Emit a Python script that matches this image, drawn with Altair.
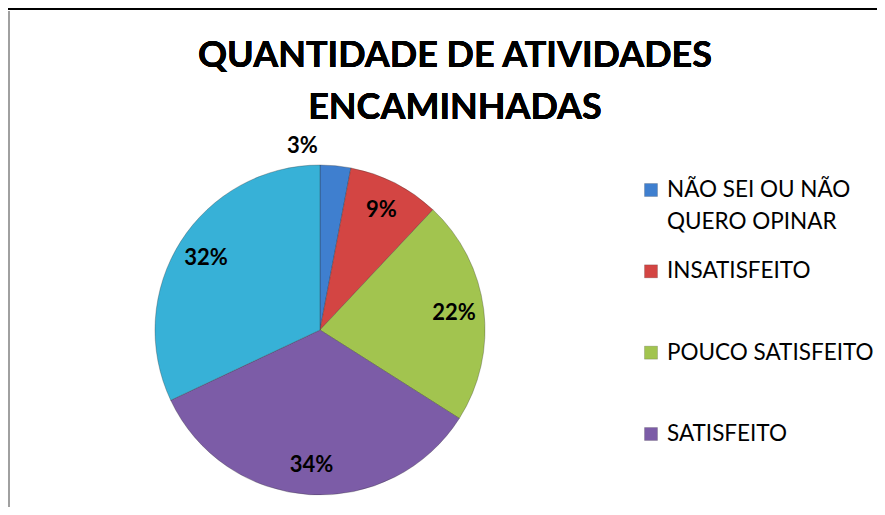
import altair as alt
import pandas as pd

categorias = [
    "NÃO SEI OU NÃO QUERO OPINAR",
    "INSATISFEITO",
    "POUCO SATISFEITO",
    "SATISFEITO",
    "MUITO SATISFEITO",
]
percentuais = [3, 9, 22, 34, 32]
cores = ["#3F7FCF", "#D34543", "#A2C44F", "#7C5CA7", "#37B1D7"]
titulo = ["QUANTIDADE DE ATIVIDADES", "ENCAMINHADAS"]
# legend entries visible in the reference (the fifth one is cut off there)
legenda_rotulos = ["NÃO SEI OU NÃO\nQUERO OPINAR", "INSATISFEITO", "POUCO SATISFEITO", "SATISFEITO"]

df = pd.DataFrame({
    "categoria": categorias,
    "p": percentuais,
    "ordem": list(range(len(categorias))),
})
df_leg = pd.DataFrame({
    "categoria": categorias[:4],
    "rotulo": legenda_rotulos,
})

CX, CY, R = 312, 192, 165

cor = alt.Color("categoria:N", scale=alt.Scale(domain=categorias, range=cores), legend=None)

base = alt.Chart(df).transform_calculate(
    rot_dentro="datum.p >= 5 ? datum.p + '%' : ''",
    rot_fora="datum.p < 5 ? datum.p + '%' : ''",
)

theta = alt.Theta("p:Q", stack=True)
order = alt.Order("ordem:Q", sort="ascending")

pizza = base.mark_arc(outerRadius=R, stroke="#2a2a2a", strokeWidth=0.6, strokeOpacity=0.5).encode(
    theta=theta, order=order, x=alt.value(CX), y=alt.value(CY), color=cor,
)

rot_dentro = base.mark_text(
    radius=135, font="Lato", fontSize=22, fontWeight="bold", color="black"
).encode(theta=theta, order=order, x=alt.value(CX), y=alt.value(CY), text="rot_dentro:N")

rot_fora = base.mark_text(
    radius=185, dx=-35, font="Lato", fontSize=22, fontWeight="bold", color="black"
).encode(theta=theta, order=order, x=alt.value(CX), y=alt.value(CY), text="rot_fora:N")

y_leg = alt.Y(
    "categoria:N",
    scale=alt.Scale(domain=categorias[:4], range=[52, 296], padding=0),
    axis=None,
)

leg_simb = alt.Chart(df_leg).mark_square(size=169, opacity=1, stroke="#333333", strokeWidth=0.4, strokeOpacity=0.5).encode(
    x=alt.value(643), y=y_leg, color=cor,
)
leg_txt = alt.Chart(df_leg).mark_text(
    align="left", baseline="middle", font="Lato", fontSize=22.5, color="black",
    lineBreak="\n", lineHeight=32,
).encode(x=alt.value(659), y=y_leg, text="rotulo:N")

titulo_txt = alt.Chart(df_leg).mark_text(
    text=titulo, align="center", baseline="middle", font="Lato", fontSize=36,
    fontWeight="bold", color="black", lineHeight=52,
).encode(x=alt.value(447), y=alt.value(-82))

borda_topo = alt.Chart(df).mark_rule(color="black", strokeWidth=2).encode(
    x=alt.value(0), x2=alt.value(869), y=alt.value(-129)
)
borda_esq = alt.Chart(df).mark_rule(color="#a0a0a0", strokeWidth=2).encode(
    x=alt.value(1), y=alt.value(-127), y2=alt.value(369)
)

chart = alt.layer(
    pizza, rot_dentro, rot_fora, leg_simb, leg_txt, titulo_txt, borda_topo, borda_esq
).properties(
    width=869,
    height=369,
    padding={"left": 0, "right": 0, "top": 130, "bottom": 0},
    autosize=alt.AutoSizeParams(type="none"),
).configure_view(stroke=None)

chart.save("out.html", embed_options={"renderer": "svg", "actions": False})
